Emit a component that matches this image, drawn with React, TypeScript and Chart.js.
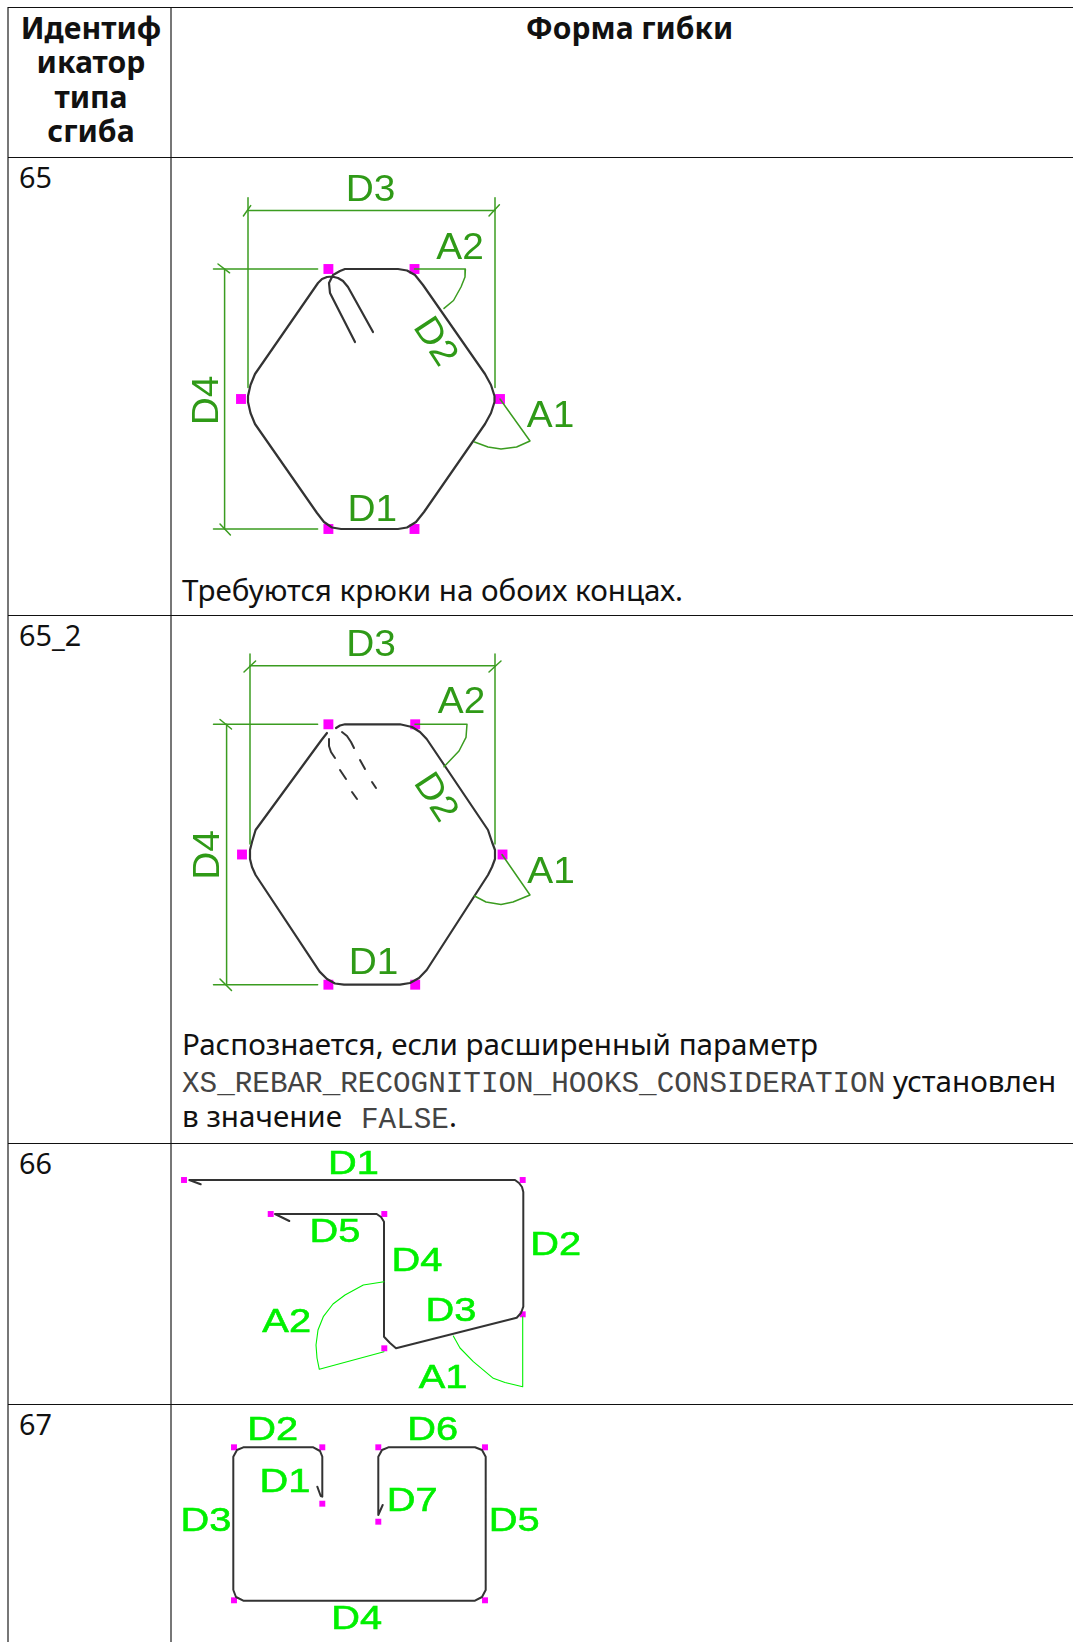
import React, { useEffect, useRef } from "react";
import { Chart, registerables } from "chart.js";

Chart.register(...registerables);

type P = [number, number];
type L = [string, number, number, number?];

const headerIdLines = ["Идентиф", "икатор", "типа", "сгиба"];
const headerShape = "Форма гибки";
const rowIds = ["65", "65_2", "66", "67"];
const note65 = "Требуются крюки на обоих концах.";
const note652a = "Распознается, если расширенный параметр";
const note652b = "XS_REBAR_RECOGNITION_HOOKS_CONSIDERATION";
const note652c = "установлен";
const note652d = "в значение";
const note652e = "FALSE";

// ---- shape 65
const bar65: P[] = [
  [373, 332], [348, 287], [343, 281], [338, 278], [332, 276.5], [327, 277], [322, 279], [318, 283],
  [255, 374], [250.5, 385], [248, 396], [248, 402], [250.5, 413], [255, 424],
  [317, 513], [324, 522], [332, 527.5], [341, 529], [398, 529], [407, 527.5], [416, 522], [424, 512],
  [485, 424], [491, 413], [494.5, 402], [494.5, 396], [491, 385], [485, 374],
  [423, 285], [415, 275], [407, 270.5], [398, 269], [345, 269], [340, 271], [333, 275], [329, 283], [330, 293], [355, 342],
];
const marks65: P[] = [[328.4, 269], [414.5, 269], [241, 399], [500, 399], [328.4, 529], [414.5, 529]];
const dims65: P[][] = [
  [[248, 387.5], [248, 197.7]], [[495, 387.5], [495, 197.7]], [[248, 210.4], [495, 210.4]],
  [[243.4, 216], [250.7, 205.6]], [[489, 216], [499.4, 204.8]],
  [[213.5, 269], [317.6, 269]], [[213.5, 529], [317.6, 529]], [[224.6, 269], [224.6, 529]],
  [[218, 264], [229.6, 272.8]], [[220, 524], [230.4, 535]],
  [[414.5, 269], [465.4, 269], [465, 277], [461, 287], [453.5, 300.5], [444, 308.4]],
  [[500, 399], [530, 441], [516.6, 447], [501, 449], [488, 447], [474.5, 442]],
];
const labels65: L[] = [
  ["D3", 370.5, 191], ["A2", 460, 248.5], ["D2", 434.5, 342, 57], ["A1", 550.5, 417], ["D1", 372.4, 510.5], ["D4", 208, 400.5, -90],
];

// ---- shape 65_2
const bar652: P[] = [
  [327, 733], [321.5, 740], [255.6, 830], [252, 842], [250, 850], [250, 859], [252, 867], [255.6, 875],
  [319.6, 971.6], [327, 979], [335, 983.5], [344, 984.7], [400, 984.7], [410, 983], [419, 978], [426.7, 970],
  [488, 875], [492, 867], [495, 859], [495, 850], [492, 842], [488, 830],
  [426.7, 739], [420, 732], [412, 727], [400, 724.3], [345, 724.3], [340, 725.5], [336, 728],
];
const dashes652: P[][] = [
  [[342, 732], [347, 736], [351, 742], [354, 748]],
  [[360, 760], [365, 769]],
  [[372, 782], [376, 788]],
  [[329, 739], [329, 746], [331, 752], [335, 758]],
  [[340, 770], [346, 779]],
  [[352, 792], [357, 799]],
];
const marks652: P[] = [[328.4, 724.3], [415.2, 724.3], [242, 854.5], [502.5, 854.5], [328.4, 984.7], [415.2, 984.7]];
const dims652: P[][] = [
  [[250, 844], [250, 654]], [[495, 844], [495, 654]], [[250, 665.8], [495, 665.8]],
  [[244, 672], [255.6, 661]], [[489, 672], [501, 661]],
  [[213.5, 724.3], [317.6, 724.3]], [[213.5, 984.7], [317.6, 984.7]], [[226.6, 724.3], [226.6, 984.7]],
  [[220, 719.5], [231.5, 729]], [[220, 979], [231.5, 990.5]],
  [[415, 724.3], [467, 724.3], [466, 737.4], [459, 751], [444, 766.7]],
  [[502, 854.5], [530, 895], [513, 902], [501, 904.4], [486, 902], [474.5, 896]],
];
const labels652: L[] = [
  ["D3", 371, 645.5], ["A2", 461.5, 702.5], ["D2", 435, 797.7, 57], ["A1", 551, 873], ["D1", 373.5, 963.5], ["D4", 209, 855, -90],
];

// ---- shape 66
const bar66: P[] = [
  [200.7, 1184.3], [189.3, 1180], [515, 1180], [519, 1183], [522, 1187], [523.3, 1192],
  [523.3, 1306.7], [521, 1313], [516.7, 1317.7], [396, 1348.3], [390, 1343], [384, 1336.7],
  [384, 1221.7], [381, 1217], [376.7, 1214], [275, 1214], [289.3, 1221],
];
const marks66: P[] = [[184, 1180], [522.7, 1180], [270.7, 1214], [384.3, 1214], [522.7, 1314.3], [384.3, 1348.3]];
const dims66: P[][] = [
  [[384, 1351.7], [319.3, 1369.3], [317, 1358], [316, 1345], [318, 1330], [323.3, 1316.7], [333, 1304], [345, 1295], [363.3, 1285], [384, 1281.7]],
  [[522.7, 1316.7], [522.7, 1386.7], [505, 1382.5], [493.3, 1378.3], [473.3, 1361.7], [460, 1348], [453.3, 1336]],
];
const labels66: L[] = [
  ["D1", 353.5, 1164.5], ["D5", 335, 1233], ["D4", 417, 1261.5], ["D2", 555.7, 1245.5], ["D3", 451, 1311.5], ["A2", 286.7, 1323], ["A1", 443, 1379],
];

// ---- shape 67
const bar67: P[] = [
  [317.3, 1486.7], [320.7, 1496], [322.3, 1496.7], [322.3, 1456.7], [320, 1451], [313.3, 1447.3],
  [243.3, 1447.3], [237, 1450], [233.3, 1456.7], [233.3, 1590], [236, 1597], [243.3, 1600.7],
  [475, 1600.7], [482, 1597], [485.7, 1590], [485.7, 1456.7], [482, 1450], [475, 1447.3],
  [388.3, 1447.3], [382, 1450], [378.3, 1456.7], [378.3, 1515], [382.7, 1505],
];
const marks67: P[] = [[234, 1447.3], [322.3, 1447.3], [322.3, 1503.7], [378.3, 1447.3], [485, 1447.3], [378.3, 1521.7], [234, 1600.3], [485, 1600.3]];
const labels67: L[] = [
  ["D2", 272.7, 1430.5], ["D6", 432.7, 1430.5], ["D1", 285, 1483], ["D7", 412.3, 1501.5], ["D3", 206, 1521.5], ["D5", 514.3, 1521.5], ["D4", 356.7, 1620],
];

const BOX = { left: 172, top: 0, width: 901, height: 1642 };

const labelPlugin = {
  id: "dimLabels",
  afterDatasetsDraw(chart: any) {
    const { ctx, scales } = chart;
    chart.data.datasets.forEach((ds: any) => {
      if (!ds.labelTexts) return;
      ds.data.forEach((pt: any, i: number) => {
        ctx.save();
        ctx.translate(scales.x.getPixelForValue(pt.x), scales.y.getPixelForValue(pt.y));
        ctx.rotate(((ds.labelAngles[i] || 0) * Math.PI) / 180);
        ctx.scale(ds.labelStretch, 1);
        ctx.font = ds.labelFont;
        ctx.fillStyle = ds.labelColor;
        ctx.textAlign = "center";
        ctx.textBaseline = "middle";
        ctx.fillText(ds.labelTexts[i], 0, 0);
        if (ds.labelStroke) {
          ctx.strokeStyle = ds.labelColor;
          ctx.lineWidth = ds.labelStroke;
          ctx.strokeText(ds.labelTexts[i], 0, 0);
        }
        ctx.restore();
      });
    });
  },
};

const toXY = (pts: P[]) => pts.map(([x, y]) => ({ x, y }));
const line = (pts: P[], color: string, width: number) => ({
  data: toXY(pts), showLine: true, borderColor: color, borderWidth: width, pointRadius: 0, fill: false, tension: 0,
  borderJoinStyle: "round", borderCapStyle: "round",
});
const squares = (pts: P[], r: number) => ({
  data: toXY(pts), showLine: false, pointStyle: "rect", pointRadius: r, pointHoverRadius: r,
  pointBackgroundColor: "#ff00ff", pointBorderWidth: 0, pointBorderColor: "#ff00ff",
});
const labelSet = (ls: L[], font: string, color: string, stretch: number, stroke: number) => ({
  data: ls.map((l) => ({ x: l[1], y: l[2] })), showLine: false, pointRadius: 0,
  labelTexts: ls.map((l) => l[0]), labelAngles: ls.map((l) => l[3] || 0), labelFont: font, labelColor: color, labelStretch: stretch, labelStroke: stroke,
});

const DARK_GREEN = "#3b9c20";
const BRIGHT = "#00f000";
const BAR = "#333333";

const datasets = [
  ...dims65.map((d) => line(d, DARK_GREEN, 1.5)),
  line(bar65, BAR, 2.2),
  squares(marks65, 7),
  labelSet(labels65, "37px 'Liberation Sans'", "#2f9a17", 1.05, 0),
  ...dims652.map((d) => line(d, DARK_GREEN, 1.5)),
  line(bar652, BAR, 2.2),
  ...dashes652.map((d) => line(d, BAR, 2)),
  squares(marks652, 7),
  labelSet(labels652, "37px 'Liberation Sans'", "#2f9a17", 1.05, 0),
  ...dims66.map((d) => line(d, BRIGHT, 1.1)),
  line(bar66, BAR, 2),
  squares(marks66, 4.2),
  labelSet(labels66, "34px 'Liberation Sans'", BRIGHT, 1.17, 0.6),
  line(bar67, BAR, 2),
  squares(marks67, 4.2),
  labelSet(labels67, "34px 'Liberation Sans'", BRIGHT, 1.17, 0.6),
];

const hLines = [7, 157, 615, 1143, 1404];
const vLines = [7, 170];
const FONT = "'Noto Sans', sans-serif";
const MONO = "'Liberation Mono', monospace";

const T = ({ x, y, children, style }: any) => (
  <div style={{ position: "absolute", left: x, top: y, whiteSpace: "pre", lineHeight: "36px", fontFamily: FONT, fontSize: 29.6, color: "#111", ...style }}>{children}</div>
);

export default function App() {
  const ref = useRef<HTMLCanvasElement>(null);
  useEffect(() => {
    const chart = new Chart(ref.current as HTMLCanvasElement, {
      type: "scatter",
      data: { datasets: datasets as any },
      plugins: [labelPlugin as any],
      options: {
        animation: false,
        responsive: false,
        maintainAspectRatio: false,
        layout: { padding: 0, autoPadding: false },
        plugins: { legend: { display: false }, tooltip: { enabled: false } },
        scales: {
          x: { type: "linear", display: false, min: BOX.left, max: BOX.left + BOX.width },
          y: { type: "linear", display: false, reverse: true, min: BOX.top, max: BOX.top + BOX.height },
        },
      } as any,
    });
    return () => chart.destroy();
  }, []);
  const idStyle = { fontSize: 28.8 };
  const monoStyle = { fontFamily: MONO, fontSize: 29.3, color: "#444" };
  return (
    <div style={{ position: "fixed", left: 0, top: 0, width: 1073, height: 1642, overflow: "hidden", background: "#fff" }}>
      {vLines.map((x) => (
        <div key={x} style={{ position: "absolute", left: x, top: 7, width: 2, height: 1635, background: "#777" }} />
      ))}
      {hLines.map((y) => (
        <div key={y} style={{ position: "absolute", left: 8, top: y, width: 1065, height: 1, background: "#111" }} />
      ))}
      {headerIdLines.map((s, i) => (
        <T key={s} x={10} y={10 + i * 34.3} style={{ width: 162, textAlign: "center", fontWeight: 700, fontSize: 30.2 }}>{s}</T>
      ))}
      <T x={172} y={10} style={{ width: 915, textAlign: "center", fontWeight: 700, fontSize: 30 }}>{headerShape}</T>
      <T x={19} y={159} style={idStyle}>{rowIds[0]}</T>
      <T x={19} y={617} style={idStyle}>{rowIds[1]}</T>
      <T x={19} y={1145} style={idStyle}>{rowIds[2]}</T>
      <T x={19} y={1406} style={idStyle}>{rowIds[3]}</T>
      <T x={182} y={572}>{note65}</T>
      <T x={182} y={1026}>{note652a}</T>
      <T x={182} y={1067} style={monoStyle}>{note652b}</T>
      <T x={893} y={1063}>{note652c}</T>
      <T x={182} y={1098}>{note652d}</T>
      <T x={361} y={1103} style={monoStyle}>{note652e}</T>
      <T x={449} y={1098}>.</T>
      <canvas ref={ref} width={BOX.width} height={BOX.height} style={{ position: "absolute", left: BOX.left, top: BOX.top, display: "block" }} />
    </div>
  );
}
